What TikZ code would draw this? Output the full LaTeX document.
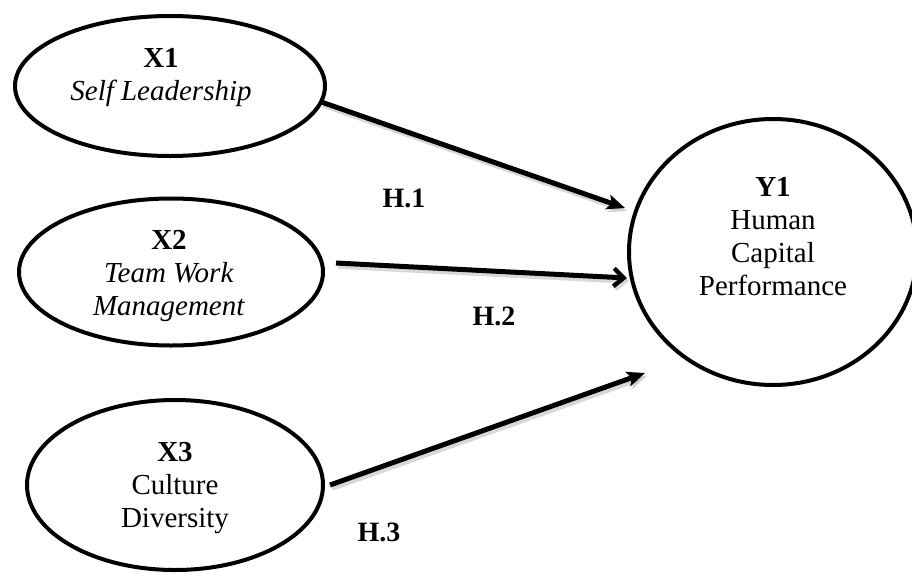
\documentclass[tikz,border=0pt]{standalone}
\usepackage{fontspec}
\setmainfont{Liberation Serif}
\usetikzlibrary{shapes.geometric,arrows.meta}
\begin{document}
\begin{tikzpicture}[x=0.5pt,y=-0.5pt,
  lat/.style={draw, line width=2pt, ellipse, inner sep=0pt, outer sep=0pt},
  txt/.style={align=center, font=\fontsize{14.5}{16.5}\selectfont, inner sep=0pt},
  hyp/.style={font=\fontsize{14}{16}\selectfont\bfseries, inner sep=0pt},
  shade/.style={preaction={draw=black!30, opacity=0.5, line width=2.8pt, transform canvas={shift={(1pt,-1.5pt)}}}},
  arr/.style={line width=2.5pt, -{Stealth[length=9pt,width=7.5pt,inset=2pt]}, shade},
  arrb/.style={line width=2.5pt, -{Straight Barb[length=5pt,width=9pt,line width=2.2pt]}, shade},
]
\useasboundingbox (0,0) rectangle (912,574);
% latent variables
\node[lat, minimum width=155pt, minimum height=70pt] (x1) at (170,86) {};
\node[lat, minimum width=152pt, minimum height=73.5pt] (x2) at (171,272) {};
\node[lat, minimum width=148pt, minimum height=85pt] (x3) at (175,485) {};
\node[lat, minimum width=144pt, minimum height=133pt] (y1) at (773,252) {};
% texts
\node[txt] (t1) at (161,78) {\textbf{X1}\\\textit{Self Leadership}};
\node[txt] (t2) at (169,276) {\textbf{X2}\\\textit{Team Work}\\\textit{Management}};
\node[txt] (t3) at (175,488) {\textbf{X3}\\Culture\\Diversity};
\node[txt] (ty) at (773,237) {\textbf{Y1}\\Human\\Capital\\Performance};
% hypothesis labels
\node[hyp] (h1) at (404,198) {H.\oldstylenums{1}};
\node[hyp] (h2) at (494,316) {H.\oldstylenums{2}};
\node[hyp] (h3) at (379,532) {H.\oldstylenums{3}};
% arrow end points
\coordinate (e1) at (625,208);
\coordinate (e2) at (627,278);
\coordinate (e3) at (645,373);
% connectors
\draw[arr] (x1.-6) -- (e1);
\draw[arrb] ([xshift=6.5pt,yshift=4.5pt]x2.east) -- (e2);
\draw[arr] ([xshift=3.5pt]x3.east) -- (e3);
\end{tikzpicture}
\end{document}
